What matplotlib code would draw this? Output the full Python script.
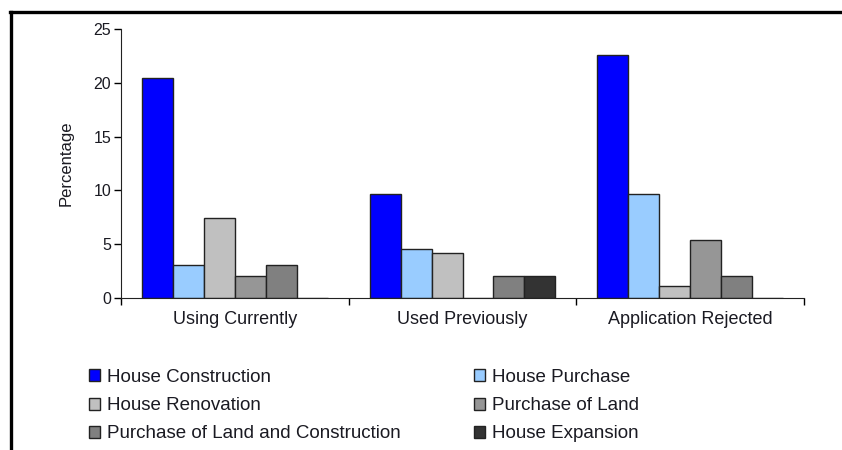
import matplotlib
matplotlib.use("Agg")
import matplotlib.pyplot as plt
import numpy as np
from matplotlib.lines import Line2D

plt.rcParams['font.family'] = ['Liberation Sans', 'DejaVu Sans']

categories = ["Using Currently", "Used Previously", "Application Rejected"]
series_names = [
    "House Construction",
    "House Purchase",
    "House Renovation",
    "Purchase of Land",
    "Purchase of Land and Construction",
    "House Expansion",
]
house_construction = [20.4, 9.7, 22.6]
house_purchase = [3.1, 4.6, 9.7]
house_renovation = [7.4, 4.2, 1.1]
purchase_of_land = [2.0, 0.0, 5.4]
land_and_construction = [3.1, 2.0, 2.0]
house_expansion = [0.0, 2.0, 0.0]
values = [house_construction, house_purchase, house_renovation,
          purchase_of_land, land_and_construction, house_expansion]
colors = ["#0000FF", "#99CCFF", "#C0C0C0", "#969696", "#808080", "#333333"]
y_ticks = [0, 5, 10, 15, 20, 25]

text_color = "#1a1a22"

fig = plt.figure(figsize=(8.42, 4.5), dpi=100)
ax = fig.add_axes([121 / 842, 1 - 298 / 450, (804 - 121) / 842, (298 - 29) / 450])

n = len(series_names)
bar_w = 0.136
x = np.arange(len(categories))
bars = []
for i, (vals, col) in enumerate(zip(values, colors)):
    offs = (i - (n - 1) / 2) * bar_w
    b = ax.bar(x + offs, vals, width=bar_w, color=col, edgecolor="#222222",
               linewidth=1.0, label=series_names[i])
    bars.append(b)

ax.set_xlim(-0.5, len(categories) - 0.5)
ax.set_ylim(0, 25)
ax.set_yticks(y_ticks)
ax.set_yticklabels([str(t) for t in y_ticks], fontsize=11.5, color=text_color)
ax.set_xticks(np.arange(-0.5, len(categories), 1.0))
ax.set_xticklabels([])
ax.set_xticks(x, minor=True)
ax.set_xticklabels(categories, minor=True, fontsize=13, color=text_color)
ax.tick_params(axis='x', which='minor', length=0, pad=9)
ax.tick_params(axis='x', which='major', length=5, width=1, direction='out')
ax.tick_params(axis='y', length=5, width=1, direction='out', pad=2)
ax.spines['top'].set_visible(False)
ax.spines['right'].set_visible(False)
ax.spines['left'].set_color("#222222")
ax.spines['bottom'].set_color("#222222")
ax.set_ylabel("Percentage", fontsize=12, labelpad=14, color=text_color)

# two-column legend below the plot
col_left = [0, 2, 4]
col_right = [1, 3, 5]
legend_kw = dict(loc='upper left', frameon=False, fontsize=13.5,
                 handlelength=0.6, handleheight=0.6, handletextpad=0.38,
                 labelspacing=0.6, borderpad=0, borderaxespad=0,
                 labelcolor=text_color)
fig.legend([bars[i] for i in col_left], [series_names[i] for i in col_left],
           bbox_to_anchor=(89 / 842, 1 - 369 / 450), **legend_kw)
fig.legend([bars[i] for i in col_right], [series_names[i] for i in col_right],
           bbox_to_anchor=(474 / 842, 1 - 369 / 450), **legend_kw)

# outer frame
fig.add_artist(Line2D([10 / 842, 1], [1 - 12 / 450, 1 - 12 / 450],
                      transform=fig.transFigure, color="black", linewidth=2.4))
fig.add_artist(Line2D([11 / 842, 11 / 842], [0, 1 - 12 / 450],
                      transform=fig.transFigure, color="black", linewidth=2.4))

fig.savefig("out.png", dpi=100)
